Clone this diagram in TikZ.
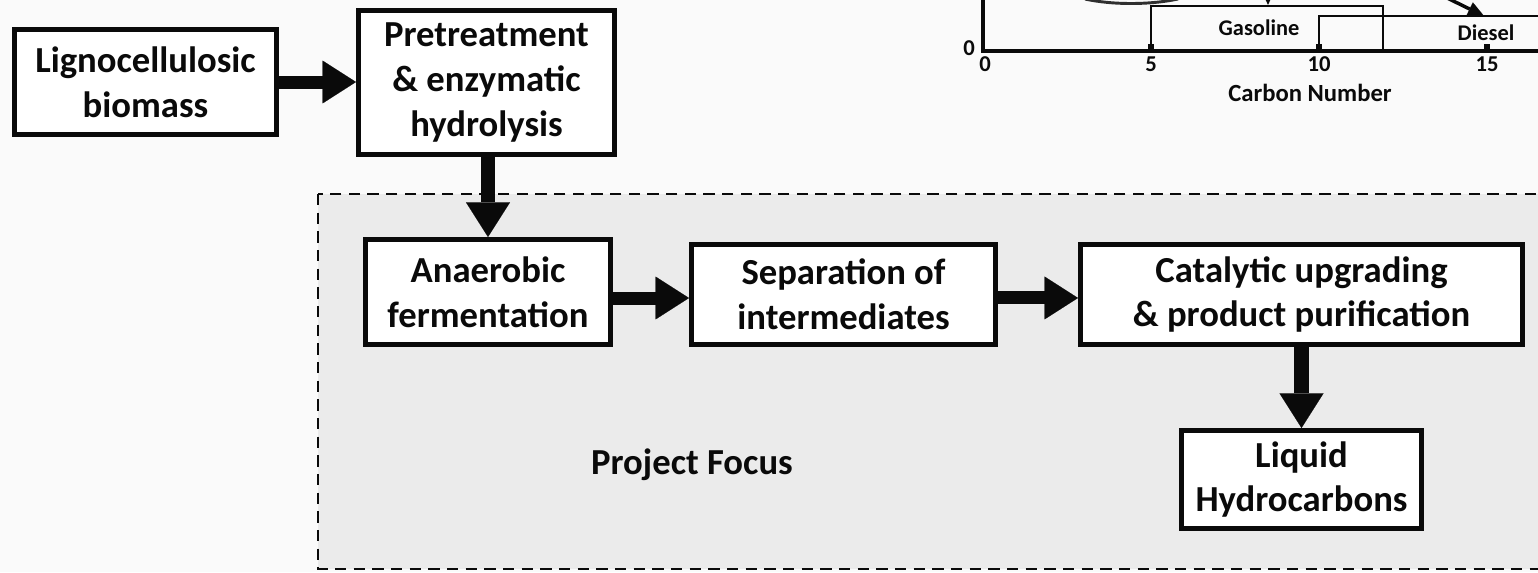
\documentclass[tikz,border=0pt]{standalone}
\usepackage{fontspec}
\setmainfont{Carlito}
\usetikzlibrary{arrows.meta,calc}
\definecolor{bg}{HTML}{FAFAFA}
\definecolor{focus}{HTML}{EBEBEB}
\definecolor{ink}{HTML}{0A0A0A}
\begin{document}
\begin{tikzpicture}[x=0.75pt,y=-0.75pt,
  box/.style={draw=ink, line width=3.75pt, fill=white, inner sep=0pt, align=center,
    font=\bfseries\fontsize{27.5}{33.5}\selectfont, text=ink},
  flowh/.style={line width=9.75pt, draw=ink, -{Triangle[length=25pt,width=32pt,line width=0.1pt]}},
  flowv/.style={line width=11pt, draw=ink, -{Triangle[length=26pt,width=33pt,line width=0.1pt]}},
  focusbox/.style={draw=ink, fill=focus, line width=2.2pt, dash pattern=on 8.5pt off 5.5pt},
  axisline/.style={draw=ink, line width=3pt},
  thinline/.style={draw=ink, line width=1.5pt},
  ticklabel/.style={font=\bfseries\fontsize{17}{17}\selectfont, text=ink, inner sep=0pt},
  chartlabel/.style={font=\bfseries\fontsize{16.8}{16.8}\selectfont, text=ink, inner sep=0pt},
  biglabel/.style={font=\bfseries\fontsize{27.5}{33.5}\selectfont, text=ink, inner sep=0pt}
]
\clip (0,0) rectangle (1538,572);
\fill[bg] (0,0) rectangle (1538,572);

% project focus region
\path[focusbox] (318,194) rectangle (1560,569);

% chart (partial, top right)
\draw[ink!85, line width=2.2pt] (1085,-1) .. controls (1112,5) and (1150,5) .. (1178,-1);
\draw[axisline] (983,-5) -- (983,51) -- (1560,51);
\foreach \t in {1151,1319,1487}{\fill[ink] (\t-3,44) rectangle (\t+3,51);}
\draw[thinline] (1151,51) |- (1383,6) -- (1383,51);
\draw[thinline] (1319,51) |- (1560,16);
\draw[thinline, -{Triangle[length=9pt,width=8pt]}] (1268,-30) -- (1268,5);
\draw[ink, line width=2.6pt, -{Triangle[length=12pt,width=11pt,line width=0.1pt]}] (1400,-25) -- (1484,16);
\node[ticklabel] (yzero) at (969,48) {0};
\node[ticklabel] (xzero) at (985,64) {0};
\node[ticklabel] (xfive) at (1151,64) {5};
\node[ticklabel] (xten) at (1319,64) {10};
\node[ticklabel] (xfifteen) at (1487,64) {15};
\node[font=\bfseries\fontsize{18.5}{18.5}\selectfont, text=ink, inner sep=0pt] (cnum) at (1310,93) {Carbon Number};
\node[chartlabel] (gas) at (1259,28) {Gasoline};
\node[chartlabel] (dies) at (1486,33) {Diesel};

% process boxes
\node[box, minimum width=196.5pt, minimum height=78.75pt] (ligno) at (145.5,82) {Lignocellulosic\\biomass};
\node[box, minimum width=192pt, minimum height=108pt] (pre) at (486.5,82.5) {Pretreatment\\\& enzymatic\\hydrolysis};
\node[box, minimum width=183.75pt, minimum height=78.75pt] (ana) at (488,292) {Anaerobic\\fermentation};
\node[box, minimum width=228pt, minimum height=75pt] (sep) at (843.5,294.5) {Separation of\\intermediates};
\node[box, minimum width=331.5pt, minimum height=75pt] (cat) at (1301.5,294.5) {Catalytic upgrading\\\& product purification};
\node[box, minimum width=180pt, minimum height=73.5pt] (liq) at (1301.5,479.5) {Liquid\\Hydrocarbons};
\node[biglabel] (focuslabel) at (692,465) {Project Focus};

% connectors
\draw[flowh] (ligno.east) -- (pre.west |- ligno.east);
\draw[flowv] (pre.south -| ana.north) -- (ana.north);
\draw[flowh] ([yshift=-4.5pt]ana.east) -- ([yshift=-4.5pt]ana.east -| sep.west);
\draw[flowh] ([yshift=-2.6pt]sep.east) -- ([yshift=-2.6pt]sep.east -| cat.west);
\draw[flowv] (cat.south) -- (liq.north);
\end{tikzpicture}
\end{document}
